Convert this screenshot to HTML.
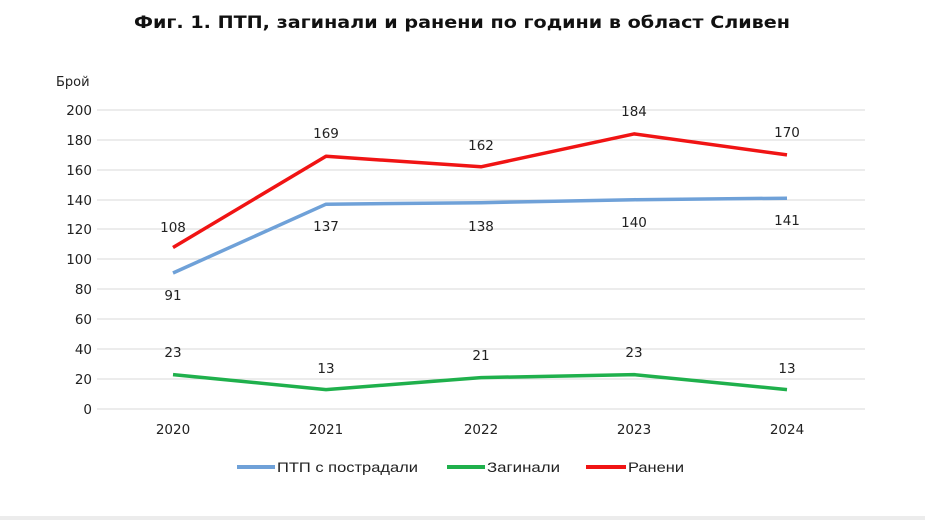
<!DOCTYPE html>
<html><head><meta charset="utf-8"><style>
html,body{margin:0;padding:0;background:#fff;}
svg{display:block;font-family:"DejaVu Sans","Liberation Sans",sans-serif;}
</style></head><body>
<svg width="925" height="520" viewBox="0 0 925 520">
<rect x="0" y="0" width="925" height="520" fill="#fff"/>
<rect x="0" y="516" width="925" height="4" fill="#ececec"/>
<text x="462" y="28" text-anchor="middle" font-size="17" font-weight="bold" fill="#111" textLength="656" lengthAdjust="spacingAndGlyphs">Фиг. 1. ПТП, загинали и ранени по години в област Сливен</text>
<text x="56" y="86" font-size="13" fill="#222">Брой</text>
<g stroke="#d9d9d9" stroke-width="1">
<line x1="97" x2="865" y1="110" y2="110"/><line x1="97" x2="865" y1="140" y2="140"/>
<line x1="97" x2="865" y1="170" y2="170"/><line x1="97" x2="865" y1="200" y2="200"/>
<line x1="97" x2="865" y1="229" y2="229"/><line x1="97" x2="865" y1="259" y2="259"/>
<line x1="97" x2="865" y1="289" y2="289"/><line x1="97" x2="865" y1="319" y2="319"/>
<line x1="97" x2="865" y1="349" y2="349"/><line x1="97" x2="865" y1="379" y2="379"/>
<line x1="97" x2="865" y1="409" y2="409"/>
</g>
<g font-size="13.5" fill="#222" text-anchor="end">
<text x="92" y="115">200</text><text x="92" y="145">180</text><text x="92" y="175">160</text>
<text x="92" y="205">140</text><text x="92" y="234">120</text><text x="92" y="264">100</text>
<text x="92" y="294">80</text><text x="92" y="324">60</text><text x="92" y="354">40</text>
<text x="92" y="384">20</text><text x="92" y="414">0</text>
</g>
<g font-size="13.5" fill="#222" text-anchor="middle">
<text x="173" y="434">2020</text><text x="326" y="434">2021</text><text x="481" y="434">2022</text>
<text x="634" y="434">2023</text><text x="787" y="434">2024</text>
</g>
<g fill="none" stroke-width="3.5" stroke-linejoin="round">
<polyline stroke="#6fa1d8" points="173,273 326,204.2 481,202.7 634,199.7 787,198.2"/>
<polyline stroke="#1fb04c" points="173,374.6 326,389.6 481,377.6 634,374.6 787,389.6"/>
<polyline stroke="#f01414" points="173,247.5 326,156.3 481,166.8 634,133.9 787,154.9"/>
</g>
<g font-size="13.5" fill="#222" text-anchor="middle">
<text x="173" y="232">108</text><text x="326" y="138">169</text><text x="481" y="150">162</text>
<text x="634" y="116">184</text><text x="787" y="137">170</text>
<text x="173" y="300">91</text><text x="326" y="231">137</text><text x="481" y="231">138</text>
<text x="634" y="227">140</text><text x="787" y="225">141</text>
<text x="173" y="357">23</text><text x="326" y="373">13</text><text x="481" y="360">21</text>
<text x="634" y="357">23</text><text x="787" y="373">13</text>
</g>
<g stroke-width="4">
<line x1="237" x2="275" y1="467" y2="467" stroke="#6fa1d8"/>
<line x1="447" x2="485" y1="467" y2="467" stroke="#1fb04c"/>
<line x1="586" x2="626" y1="467" y2="467" stroke="#f01414"/>
</g>
<g font-size="14" fill="#222" font-family="Liberation Sans, sans-serif">
<text x="277" y="472" textLength="141" lengthAdjust="spacingAndGlyphs">ПТП с пострадали</text>
<text x="487" y="472" textLength="73" lengthAdjust="spacingAndGlyphs">Загинали</text>
<text x="628" y="472" textLength="56" lengthAdjust="spacingAndGlyphs">Ранени</text>
</g>
</svg>
</body></html>
